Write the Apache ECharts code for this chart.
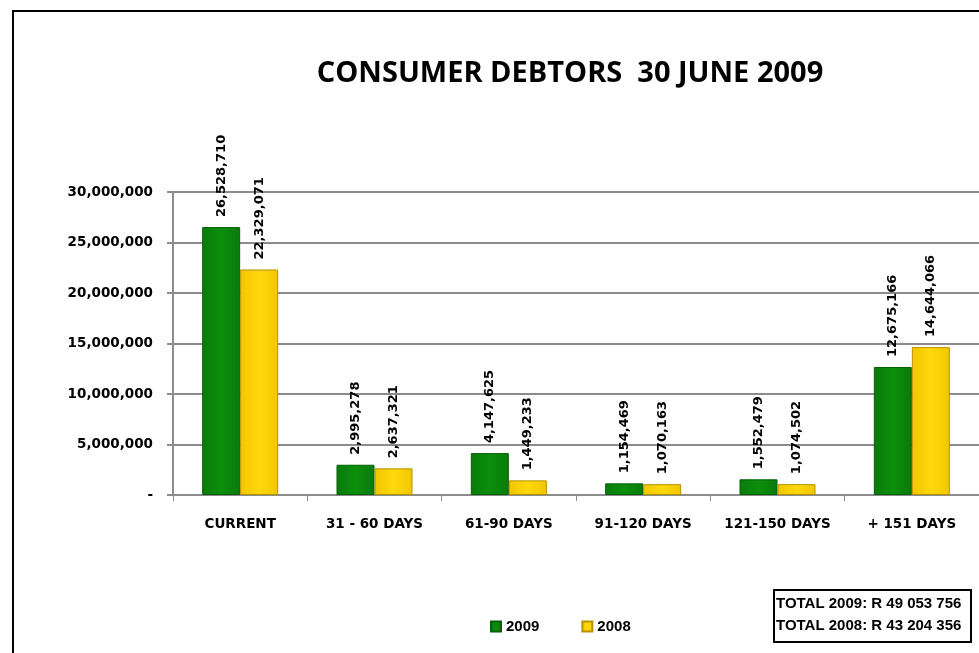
<!DOCTYPE html>
<html><head><meta charset="utf-8">
<script src="https://cdn.jsdelivr.net/npm/echarts@6/dist/echarts.min.js"></script>
<style>html,body{margin:0;padding:0;background:#fff}#c{width:979px;height:653px}</style>
</head><body><div id="c"></div>
<script>
const categories = ['CURRENT', '31 - 60 DAYS', '61-90 DAYS', '91-120 DAYS', '121-150 DAYS', '+ 151 DAYS'];
const values2009 = [26528710, 2995278, 4147625, 1154469, 1552479, 12675166];
const values2008 = [22329071, 2637321, 1449233, 1070163, 1074502, 14644066];
const yTicks = { min: 0, max: 30000000, interval: 5000000 };
const totals = ['TOTAL 2009: R 49 053 756', 'TOTAL 2008: R 43 204 356'];

const fmt = v => v.toString().replace(/\B(?=(\d{3})+(?!\d))/g, ',');
const grad = (a, b) => new echarts.graphic.LinearGradient(0, 0, 1, 0, [
  {offset: 0, color: a}, {offset: 0.5, color: b}, {offset: 1, color: a}]);
const VF = 'DejaVu Sans, Verdana, sans-serif';
const AF = 'Liberation Sans, Arial, sans-serif';

const chart = echarts.init(document.getElementById('c'));
const labelCfg = {
  show: true, position: 'top', rotate: 90, align: 'left', verticalAlign: 'middle',
  distance: 10, fontFamily: VF, fontWeight: 'bold',
  fontSize: 13, color: '#000', formatter: p => fmt(p.value)
};
chart.setOption({
  animation: false,
  title: {
    text: 'CONSUMER DEBTORS  30 JUNE 2009', left: 565, top: 54, textAlign: 'center',
    textStyle: {fontFamily: 'Open Sans, sans-serif', fontWeight: 'bold', fontSize: 29, color: '#000'}
  },
  grid: {left: 173, right: 0, top: 192, bottom: 158, containLabel: false},
  legend: {
    data: ['2009', '2008'], left: 485, top: 614, itemGap: 42, itemWidth: 10, itemHeight: 10,
    icon: 'rect',
    textStyle: {fontFamily: AF, fontWeight: 'bold', fontSize: 15, color: '#000'}
  },
  xAxis: {
    type: 'category', data: categories,
    axisLine: {lineStyle: {color: '#8c8c8c', width: 2}},
    axisTick: {show: true, length: 6, lineStyle: {color: '#8c8c8c', width: 1}},
    axisLabel: {interval: 0, margin: 22, fontFamily: VF, fontWeight: 'bold', fontSize: 13.5, color: '#000'}
  },
  yAxis: {
    type: 'value', min: yTicks.min, max: yTicks.max, interval: yTicks.interval,
    axisLine: {show: true, lineStyle: {color: '#8c8c8c', width: 2}},
    axisTick: {show: true, length: 6, lineStyle: {color: '#8c8c8c', width: 2}},
    splitLine: {lineStyle: {color: '#8c8c8c', width: 2}},
    axisLabel: {margin: 20, fontFamily: VF, fontWeight: 'bold', fontSize: 13.5, color: '#000',
      formatter: v => v === 0 ? '-' : fmt(v)}
  },
  series: [
    {name: '2009', type: 'bar', data: values2009, barWidth: 38, barGap: '0%',
      itemStyle: {color: grad('#0a7a0a', '#0b8f0b'), borderColor: '#066006', borderWidth: 1},
      label: labelCfg},
    {name: '2008', type: 'bar', data: values2008, barWidth: 38,
      itemStyle: {color: grad('#f2c500', '#ffd90a'), borderColor: '#b89200', borderWidth: 1},
      label: labelCfg}
  ],
  graphic: [
    {type: 'polyline', shape: {points: [[13, 653], [13, 11], [979, 11]]}, style: {stroke: '#000', lineWidth: 2, fill: null}},
    {type: 'rect', shape: {x: 774, y: 590, width: 197, height: 52}, style: {stroke: '#000', lineWidth: 2, fill: '#fff'}},
    {type: 'text', left: 776, top: 596, style: {text: totals[0], fontFamily: AF, fontWeight: 'bold', fontSize: 15, fill: '#000'}},
    {type: 'text', left: 776, top: 618, style: {text: totals[1], fontFamily: AF, fontWeight: 'bold', fontSize: 15, fill: '#000'}}
  ]
});
</script></body></html>
